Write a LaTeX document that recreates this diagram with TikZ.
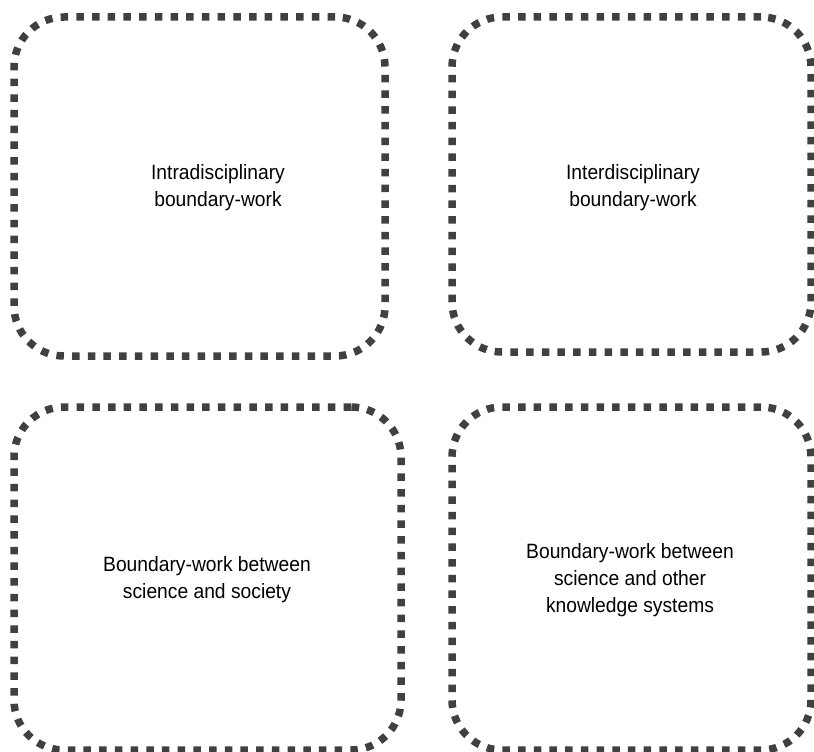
\documentclass[tikz,border=0pt]{standalone}
\usepackage{fontspec}
\setmainfont{Liberation Sans}
\newfontfamily\labelfont[FakeStretch=0.93]{Liberation Sans}
\definecolor{boxgray}{HTML}{404040}
\tikzset{
  dottedbox/.style={draw=boxgray, line width=7.5pt, rounded corners=50pt,
    dash pattern=on 7.5pt off 8.2pt, inner sep=0pt, rectangle},
  boxlabel/.style={align=center, text=black, inner sep=0pt,
    font=\labelfont\fontsize{20.7}{26.8}\selectfont}
}
\begin{document}
\begin{tikzpicture}[x=1pt, y=-1pt]
  \useasboundingbox (0,0) rectangle (814,752);
  % four dotted rounded frames
  \node[dottedbox, minimum width=371pt, minimum height=339pt] (intra) at (199.5,186.5) {};
  \node[dottedbox, minimum width=359pt, minimum height=335pt] (inter) at (631.5,184.5) {};
  \node[dottedbox, minimum width=387pt, minimum height=343pt] (society) at (207.5,578.5) {};
  \node[dottedbox, minimum width=359pt, minimum height=343pt] (other) at (631.5,578.5) {};
  % labels
  \node[boxlabel] (intraText) at (218,188) {Intradisciplinary\\boundary-work};
  \node[boxlabel] (interText) at (633,188) {Interdisciplinary\\boundary-work};
  \node[boxlabel] (societyText) at (207,580) {Boundary-work between\\science and society};
  \node[boxlabel] (otherText) at (630,580) {Boundary-work between\\science and other\\knowledge systems};
\end{tikzpicture}
\end{document}
